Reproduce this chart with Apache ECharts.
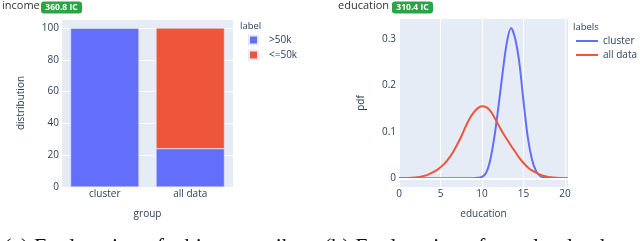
<!DOCTYPE html>
<html>
<head>
<meta charset="utf-8">
<script src="https://cdn.jsdelivr.net/npm/echarts@6/dist/echarts.min.js"></script>
<style>
html,body{margin:0;padding:0;background:#fff;}
#c{width:640px;height:241px;}
</style>
</head>
<body>
<div id="c"></div>
<script>
// ---- data ----
const incomeGroups = ['cluster', 'all data'];
const incomeHigh = [100, 24.1];   // >50k
const incomeLow = [0, 75.9];      // <=50k

const eduClusterX = [0, 2, 4, 6, 8, 9, 9.5, 10, 10.5, 11, 11.5, 12, 12.5, 13, 13.5, 14, 14.5, 15, 15.5, 16, 16.5, 17, 17.5, 18, 19, 20.3];
const eduClusterY = [0, 0, 0, 0, 0, 0, 0.001, 0.003, 0.012, 0.040, 0.090, 0.157, 0.229, 0.293, 0.323, 0.300, 0.248, 0.166, 0.090, 0.042, 0.016, 0.005, 0.0015, 0, 0, 0];

const eduAllX = [0, 0.5, 1, 1.5, 2, 2.5, 3, 3.5, 4, 4.5, 5, 5.5, 6, 6.5, 7, 7.5, 8, 8.5, 9, 9.5, 10, 10.5, 11, 11.5, 12, 12.5, 13, 13.5, 14, 14.5, 15, 15.5, 16, 16.5, 17, 17.5, 18, 18.5, 19, 19.5, 20, 20.3];
const eduAllY = [0, 0, 0.0005, 0.001, 0.002, 0.003, 0.005, 0.008, 0.012, 0.017, 0.024, 0.032, 0.043, 0.056, 0.072, 0.090, 0.110, 0.128, 0.142, 0.151, 0.155, 0.153, 0.145, 0.131, 0.114, 0.098, 0.084, 0.070, 0.057, 0.044, 0.033, 0.024, 0.017, 0.012, 0.008, 0.005, 0.003, 0.002, 0.001, 0.0005, 0, 0];

const incomeTicks = [0, 20, 40, 60, 80, 100];
const eduYTicks = [0, 0.1, 0.2, 0.3];
const eduXTicks = [0, 5, 10, 15, 20];

// ---- styles ----
const FONT = '"Open Sans", Verdana, Arial, sans-serif';
const SERIF = '"Liberation Serif", "DejaVu Serif", serif';
const AX = '#2a3f5f';
const BG = '#E5ECF6';
const BLUE = '#636EFA';
const RED = '#EF553B';

const chart = echarts.init(document.getElementById('c'), null, {renderer: 'canvas'});

function pair(xs, ys) { return xs.map((x, i) => [x, ys[i]]); }

const option = {
  animation: false,
  textStyle: {fontFamily: FONT},
  grid: [
    {left: 62, right: 407, top: 19, bottom: 54, show: true, backgroundColor: BG, borderWidth: 0},
    {left: 399, right: 72, top: 19, bottom: 54, show: true, backgroundColor: BG, borderWidth: 0}
  ],
  xAxis: [
    {
      gridIndex: 0, type: 'category', data: incomeGroups,
      axisLine: {show: false}, axisTick: {show: false},
      axisLabel: {color: AX, fontSize: 10, fontFamily: FONT, margin: 2},
      splitLine: {show: false},
      name: 'group', nameLocation: 'middle', nameGap: 22,
      nameTextStyle: {color: AX, fontSize: 10, fontFamily: FONT}
    },
    {
      gridIndex: 1, type: 'value', min: 0, max: 20.36, interval: 5,
      axisLine: {show: false}, axisTick: {show: false},
      axisLabel: {color: AX, fontSize: 10, fontFamily: FONT, margin: 2,
        formatter: v => (eduXTicks.indexOf(Math.round(v * 100) / 100) >= 0 ? String(v) : '')},
      splitLine: {show: true, lineStyle: {color: '#fff', width: 1}},
      name: 'education', nameLocation: 'middle', nameGap: 22,
      nameTextStyle: {color: AX, fontSize: 10, fontFamily: FONT}
    }
  ],
  yAxis: [
    {
      gridIndex: 0, type: 'value', min: 0, max: 105.7, interval: 20,
      axisLine: {show: false}, axisTick: {show: false},
      axisLabel: {color: AX, fontSize: 10, fontFamily: FONT, margin: 3,
        formatter: v => (incomeTicks.indexOf(v) >= 0 ? String(v) : '')},
      splitLine: {show: true, lineStyle: {color: '#fff', width: 1}},
      name: 'distribution', nameLocation: 'middle', nameGap: 36, nameRotate: 90,
      nameTextStyle: {color: AX, fontSize: 10, fontFamily: FONT}
    },
    {
      gridIndex: 1, type: 'value', min: -0.0187, max: 0.3426, splitNumber: 4,
      axisLine: {show: false}, axisTick: {show: false},
      axisLabel: {color: AX, fontSize: 10, fontFamily: FONT, margin: 3,
        formatter: v => {
          const r = Math.round(v * 10) / 10;
          return (Math.abs(v - r) < 1e-6 && eduYTicks.indexOf(r) >= 0) ? String(r) : '';
        }},
      splitLine: {show: false},
      name: 'pdf', nameLocation: 'middle', nameGap: 33, nameRotate: 90,
      nameTextStyle: {color: AX, fontSize: 10, fontFamily: FONT}
    }
  ],
  legend: [
    {
      data: ['>50k', '<=50k'], orient: 'vertical', left: 248, top: 34, padding: 0,
      itemWidth: 9, itemHeight: 9, itemGap: 3, icon: 'rect', selectedMode: false,
      textStyle: {color: AX, fontSize: 10, fontFamily: FONT, lineHeight: 12, padding: [0, 0, 0, 6]}
    },
    {
      data: ['cluster', 'all data'], orient: 'vertical', left: 576, top: 35, padding: 0,
      itemWidth: 22, itemHeight: 2, itemGap: 2, icon: 'rect', selectedMode: false,
      textStyle: {color: AX, fontSize: 10, fontFamily: FONT, lineHeight: 12}
    }
  ],
  series: [
    {
      name: '>50k', type: 'bar', xAxisIndex: 0, yAxisIndex: 0, stack: 'inc',
      data: incomeHigh, barWidth: '80%',
      itemStyle: {color: BLUE, borderColor: BG, borderWidth: 0.5}
    },
    {
      name: '<=50k', type: 'bar', xAxisIndex: 0, yAxisIndex: 0, stack: 'inc',
      data: incomeLow, barWidth: '80%',
      itemStyle: {color: RED, borderColor: BG, borderWidth: 0.5}
    },
    {
      name: 'zero', type: 'line', xAxisIndex: 1, yAxisIndex: 1, data: [], z: 1,
      markLine: {
        silent: true, symbol: 'none', label: {show: false}, animation: false,
        lineStyle: {color: '#fff', width: 2, type: 'solid'},
        data: [{yAxis: 0}]
      }
    },
    {
      name: 'cluster', type: 'line', xAxisIndex: 1, yAxisIndex: 1, z: 3,
      data: pair(eduClusterX, eduClusterY), smooth: 0.3,
      showSymbol: false, clip: false,
      lineStyle: {color: BLUE, width: 2}, itemStyle: {color: BLUE}
    },
    {
      name: 'all data', type: 'line', xAxisIndex: 1, yAxisIndex: 1, z: 4,
      data: pair(eduAllX, eduAllY), smooth: 0.3,
      showSymbol: false, clip: false,
      lineStyle: {color: RED, width: 2}, itemStyle: {color: RED}
    }
  ],
  graphic: [
    {type: 'text', left: 2, top: 0, style: {text: 'income', fontSize: 11, fontFamily: FONT, fill: '#333'}},
    {type: 'rect', shape: {x: 41, y: 1.5, width: 41, height: 12, r: 3}, style: {fill: '#2ca443'}},
    {type: 'text', style: {text: '360.8 IC', x: 61.5, y: 7.7, align: 'center', verticalAlign: 'middle', fontSize: 8.5, fontWeight: 'bold', fontFamily: FONT, fill: '#fff'}},

    {type: 'text', left: 338, top: 0, style: {text: 'education', fontSize: 11, fontFamily: FONT, fill: '#333'}},
    {type: 'rect', shape: {x: 392, y: 1.5, width: 41, height: 12, r: 3}, style: {fill: '#2ca443'}},
    {type: 'text', style: {text: '310.4 IC', x: 412.5, y: 7.7, align: 'center', verticalAlign: 'middle', fontSize: 8.5, fontWeight: 'bold', fontFamily: FONT, fill: '#fff'}},

    {type: 'text', style: {text: 'label', x: 240, y: 26, verticalAlign: 'middle', fontSize: 9.5, fontFamily: FONT, fill: AX}},
    {type: 'text', style: {text: 'labels', x: 573, y: 27, verticalAlign: 'middle', fontSize: 9.5, fontFamily: FONT, fill: AX}},

    {type: 'text', style: {text: '(a) Explanation of a binary attribute', x: 4, y: 236, verticalAlign: 'top', fontSize: 22, fontFamily: SERIF, fill: '#111'}},
    {type: 'text', style: {text: '(b) Explanation of a real-valued attribute', x: 324, y: 236, verticalAlign: 'top', fontSize: 22, fontFamily: SERIF, fill: '#111'}}
  ]
};
chart.setOption(option);
</script>
</body>
</html>
